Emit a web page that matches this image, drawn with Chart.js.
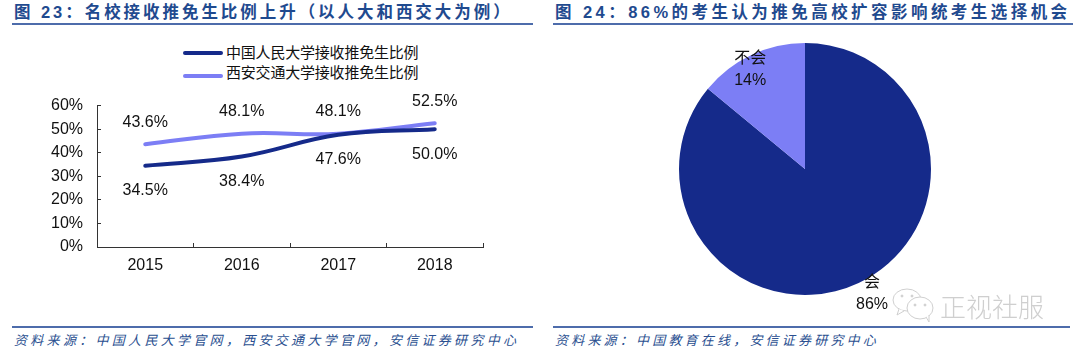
<!DOCTYPE html>
<html lang="zh">
<head>
<meta charset="utf-8">
<script src="https://cdn.jsdelivr.net/npm/chart.js@4"></script>
<style>
  html, body { margin: 0; padding: 0; background: #fff; }
  #page { position: relative; width: 1080px; height: 354px; overflow: hidden; }
  .abs { position: absolute; white-space: nowrap; }
  .title { font: bold 16.5px "Liberation Sans", "Noto Sans CJK SC", sans-serif; color: #1f4a8f; top: 1px; line-height: 22px; }
  .rule { height: 1.5px; background: #4d6cab; }
  .source { font: italic 13px "Noto Sans CJK SC", sans-serif; color: #2a4f90; top: 331px; line-height: 18px; }
  .legend { font: 15px "Liberation Sans", "Noto Sans CJK SC", sans-serif; color: #111; left: 226px; letter-spacing: -0.2px; line-height: 20px; }
  .swatch { height: 4px; width: 40px; left: 183px; border-radius: 2px; }
  canvas { position: absolute; }
  .mark { font: 200 26px "Noto Sans CJK SC", sans-serif; color: #cfcfcf; left: 940px; top: 288px; line-height: 36px; }
</style>
</head>
<body>
<div id="page">
  <div class="abs title" style="left:14px;letter-spacing:2.95px">图 23&#xFF1A;名校接收推免生比例上升&#xFF08;以人大和西交大为例&#xFF09;</div>
  <div class="abs title" style="left:555px;letter-spacing:3.45px">图 24&#xFF1A;86%的考生认为推免高校扩容影响统考生选择机会</div>
  <div class="abs rule" style="left:12px;top:23px;width:521px"></div>
  <div class="abs rule" style="left:553px;top:23px;width:520px"></div>
  <div class="abs rule" style="left:12px;top:326px;width:521px"></div>
  <div class="abs rule" style="left:553px;top:326px;width:517px"></div>
  <div class="abs source" style="left:14px;letter-spacing:3.3px">资料来源&#xFF1A;中国人民大学官网&#xFF0C;西安交通大学官网&#xFF0C;安信证券研究中心</div>
  <div class="abs source" style="left:555px;letter-spacing:3.2px">资料来源&#xFF1A;中国教育在线&#xFF0C;安信证券研究中心</div>

  <div class="abs swatch" id="sw1" style="top:51px"></div>
  <div class="abs legend" id="lg1" style="top:43px"></div>
  <div class="abs swatch" id="sw2" style="top:74px"></div>
  <div class="abs legend" id="lg2" style="top:63px"></div>

  <canvas id="lineChart" width="470" height="202" style="left:30px;top:78px"></canvas>
  <canvas id="pieChart" width="330" height="298" style="left:640px;top:20px"></canvas>

  <svg class="abs" style="left:891px;top:287px" width="50" height="40" fill="#fff" stroke="#cfcfcf" stroke-width="1">
    <ellipse cx="16" cy="13" rx="14" ry="11"/>
    <path d="M8 22 L6 28 L13 24"/>
    <ellipse cx="29" cy="21" rx="13" ry="11"/>
    <path d="M35 30 L38 35 L38 28"/>
    <circle cx="11" cy="9" r="1" fill="#cfcfcf"/>
    <circle cx="21" cy="9" r="1" fill="#cfcfcf"/>
    <circle cx="24" cy="18" r="1" fill="#cfcfcf"/>
    <circle cx="34" cy="18" r="1" fill="#cfcfcf"/>
  </svg>
  <div class="abs mark">正视社服</div>
</div>

<script>
const years = ['2015', '2016', '2017', '2018'];
const ruc = [34.5, 38.4, 47.6, 50.0];
const xjtu = [43.6, 48.1, 48.1, 52.5];
const rucName = '中国人民大学接收推免生比例';
const xjtuName = '西安交通大学接收推免生比例';
const yTicks = [0, 10, 20, 30, 40, 50, 60];

const pieLabels = ['会', '不会'];
const pieValues = [86, 14];

const DARK = '#152a8a';
const LIGHT = '#7c7ef5';
const FONT = '"Liberation Sans", "Noto Sans CJK SC", sans-serif';

// legend is plain html, easier to place than the built in one
document.getElementById('lg1').textContent = rucName;
document.getElementById('lg2').textContent = xjtuName;
document.getElementById('sw1').style.background = DARK;
document.getElementById('sw2').style.background = LIGHT;

// value labels above / below each point
const lineLabels = {
  id: 'lineLabels',
  afterDatasetsDraw(chart) {
    const ctx = chart.ctx;
    ctx.save();
    ctx.font = '16px ' + FONT;
    ctx.fillStyle = '#111';
    ctx.textAlign = 'center';
    ctx.textBaseline = 'middle';
    chart.data.datasets.forEach((ds, i) => {
      const shift = i === 0 ? 25 : -22;
      chart.getDatasetMeta(i).data.forEach((pt, j) => {
        ctx.fillText(ds.data[j].toFixed(1) + '%', pt.x, pt.y + shift);
      });
    });
    ctx.restore();
  }
};

const pieText = {
  id: 'pieText',
  afterDatasetsDraw(chart) {
    const ctx = chart.ctx;
    const factors = [1.12, 0.91];
    const nudge = [[7, -3], [-6, 4]];
    ctx.save();
    ctx.font = '16px ' + FONT;
    ctx.fillStyle = '#111';
    ctx.textAlign = 'center';
    ctx.textBaseline = 'middle';
    chart.getDatasetMeta(0).data.forEach((arc, i) => {
      const mid = (arc.startAngle + arc.endAngle) / 2;
      const r = arc.outerRadius * factors[i];
      const x = arc.x + Math.cos(mid) * r + nudge[i][0];
      const y = arc.y + Math.sin(mid) * r + nudge[i][1];
      ctx.fillText(chart.data.labels[i], x, y - 11);
      ctx.fillText(chart.data.datasets[0].data[i] + '%', x, y + 11);
    });
    ctx.restore();
  }
};

new Chart(document.getElementById('lineChart'), {
  type: 'line',
  data: {
    labels: years,
    datasets: [
      { label: rucName, data: ruc, borderColor: DARK, borderWidth: 4, tension: 0.4, pointRadius: 0, borderCapStyle: 'round' },
      { label: xjtuName, data: xjtu, borderColor: LIGHT, borderWidth: 4, tension: 0.4, pointRadius: 0, borderCapStyle: 'round' }
    ]
  },
  options: {
    responsive: false,
    animation: false,
    devicePixelRatio: 1,
    layout: { autoPadding: false, padding: { top: 0, right: 17, left: 0, bottom: 0 } },
    plugins: { legend: { display: false }, tooltip: { enabled: false } },
    scales: {
      x: {
        offset: true,
        afterFit: s => { s.height = 33; },
        grid: { offset: true, drawOnChartArea: false, color: '#333', tickLength: -4 },
        border: { color: '#333' },
        ticks: { color: '#111', font: { size: 16, family: FONT }, padding: 13, maxRotation: 0 }
      },
      y: {
        min: 0,
        max: 60,
        afterFit: s => { s.width = 67; },
        afterBuildTicks: s => { s.ticks = yTicks.map(v => ({ value: v })); },
        grid: { drawOnChartArea: false, color: '#333', tickLength: -4 },
        border: { color: '#333' },
        ticks: { color: '#111', font: { size: 16, family: FONT }, padding: 18, autoSkip: false, callback: v => v + '%' }
      }
    }
  },
  plugins: [lineLabels]
});

new Chart(document.getElementById('pieChart'), {
  type: 'pie',
  data: {
    labels: pieLabels,
    datasets: [{ data: pieValues, backgroundColor: [DARK, LIGHT], borderWidth: 0 }]
  },
  options: {
    responsive: false,
    animation: false,
    devicePixelRatio: 1,
    layout: { padding: { top: 23, bottom: 23, left: 39, right: 39 } },
    plugins: { legend: { display: false }, tooltip: { enabled: false } }
  },
  plugins: [pieText]
});
</script>
</body>
</html>
